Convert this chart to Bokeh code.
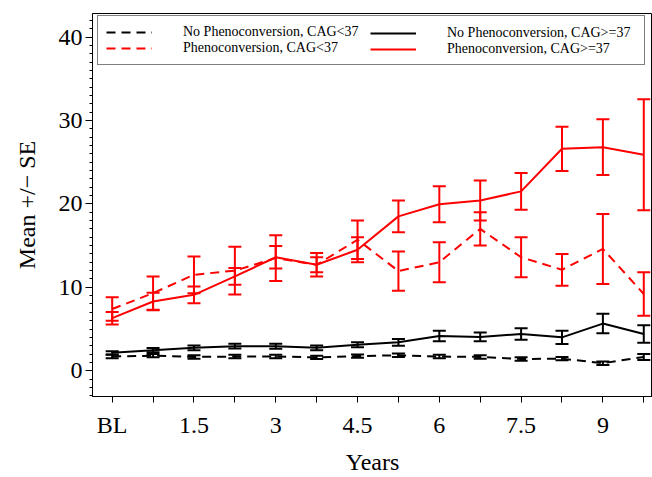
from bokeh.plotting import figure
from bokeh.models import (ColumnDataSource, Whisker, TeeHead, Range1d, FixedTicker,
                          SingleIntervalTicker, Legend, LegendItem)
from bokeh.embed import file_html
from bokeh.resources import INLINE

# ---------------- data ----------------
years = [0, 0.75, 1.5, 2.25, 3, 3.75, 4.5, 5.25, 6, 6.75, 7.5, 8.25, 9, 9.75]
x_tick_labels = {0: "BL", 1.5: "1.5", 3: "3", 4.5: "4.5", 6: "6", 7.5: "7.5", 9: "9"}

nopheno_lt37_mean = [1.70, 1.80, 1.65, 1.70, 1.70, 1.60, 1.75, 1.85, 1.70, 1.65, 1.40, 1.45, 0.90, 1.65]
nopheno_lt37_se = [0.20, 0.20, 0.20, 0.20, 0.20, 0.20, 0.20, 0.20, 0.20, 0.20, 0.20, 0.20, 0.20, 0.35]

nopheno_ge37_mean = [2.14, 2.46, 2.74, 2.94, 2.94, 2.74, 3.10, 3.40, 4.15, 4.05, 4.40, 4.00, 5.65, 4.40]
nopheno_ge37_se = [0.20, 0.25, 0.28, 0.28, 0.30, 0.28, 0.30, 0.40, 0.63, 0.53, 0.70, 0.80, 1.17, 1.05]

pheno_lt37_mean = [7.4, 9.3, 11.5, 12.0, 13.5, 12.7, 15.7, 11.95, 13.0, 17.0, 13.6, 12.1, 14.6, 9.2]
pheno_lt37_se = [1.4, 2.0, 2.2, 2.85, 2.75, 1.4, 2.3, 2.35, 2.4, 2.0, 2.4, 1.9, 4.2, 2.6]

pheno_ge37_mean = [6.3, 8.3, 9.1, 11.3, 13.6, 12.7, 14.5, 18.5, 19.95, 20.4, 21.5, 26.6, 26.8, 25.9]
pheno_ge37_se = [0.75, 1.05, 1.0, 1.0, 1.35, 0.9, 1.5, 1.9, 2.15, 2.4, 2.2, 2.65, 3.35, 6.65]

series = [
    ("No Phenoconversion, CAG<37", nopheno_lt37_mean, nopheno_lt37_se, "black", "9 6"),
    ("No Phenoconversion, CAG>=37", nopheno_ge37_mean, nopheno_ge37_se, "black", "solid"),
    ("Phenoconversion, CAG<37", pheno_lt37_mean, pheno_lt37_se, "red", "9 6"),
    ("Phenoconversion, CAG>=37", pheno_ge37_mean, pheno_ge37_se, "red", "solid"),
]

FONT = "Liberation Serif"

p = figure(width=652, height=477, output_backend="svg", toolbar_location=None,
           x_range=Range1d(-0.361, 9.910), y_range=Range1d(-3.09, 42.82),
           min_border_left=92, min_border_right=0, min_border_top=13, min_border_bottom=78)
p.background_fill_color = "white"
p.border_fill_color = "white"
p.outline_line_color = "black"
p.outline_line_width = 1
p.xgrid.visible = False
p.ygrid.visible = False

renderers = {}
for name, mean, se, color, dash in series:
    src = ColumnDataSource(dict(x=years, y=mean,
                                lower=[m - s for m, s in zip(mean, se)],
                                upper=[m + s for m, s in zip(mean, se)]))
    w = Whisker(source=src, base="x", lower="lower", upper="upper",
                line_color=color, line_width=2,
                upper_head=TeeHead(size=13, line_color=color, line_width=2),
                lower_head=TeeHead(size=13, line_color=color, line_width=2))
    p.add_layout(w)
    r = p.line("x", "y", source=src, line_color=color, line_width=2, line_dash=dash)
    renderers[name] = r

# axes
p.xaxis.ticker = FixedTicker(ticks=years)
p.xaxis.major_label_overrides = {t: x_tick_labels.get(t, "") for t in years}
p.xaxis.axis_label = "Years"
p.yaxis.ticker = SingleIntervalTicker(interval=10, num_minor_ticks=10)
p.yaxis.axis_label = "Mean +/\u2212 SE"

for ax in (p.xaxis[0], p.yaxis[0]):
    ax.major_label_text_font = FONT
    ax.major_label_text_font_size = "24px"
    ax.major_label_text_color = "black"
    ax.axis_label_text_font = FONT
    ax.axis_label_text_font_size = "24px"
    ax.axis_label_text_font_style = "normal"
    ax.axis_label_text_color = "black"
    ax.axis_line_color = "black"
    ax.major_tick_line_color = "black"
    ax.minor_tick_line_color = "black"
    ax.major_tick_in = 0
    ax.minor_tick_in = 0

p.xaxis.major_tick_out = 6
p.xaxis.minor_tick_out = 0
p.xaxis.major_label_standoff = 9
p.xaxis.axis_label_standoff = 8
p.yaxis.major_tick_out = 7
p.yaxis.minor_tick_out = 3
p.yaxis.major_label_standoff = 3
p.yaxis.axis_label_standoff = 16

common = dict(margin=0, padding=8, spacing=0, glyph_width=46, glyph_height=14,
              label_height=16, label_width=453, label_standoff=31,
              label_text_font=FONT, label_text_font_size="14px",
              label_text_color="black", orientation="vertical",
              border_line_width=1)

# first column (carries the frame of the legend box)
legend_a = Legend(items=[
    LegendItem(label=series[0][0], renderers=[renderers[series[0][0]]]),
    LegendItem(label=series[2][0], renderers=[renderers[series[2][0]]]),
], location=(5, 331), border_line_color="black",
    background_fill_color="white", background_fill_alpha=1.0, **common)
p.add_layout(legend_a)

# second column, drawn inside the same box
legend_b = Legend(items=[
    LegendItem(label=series[1][0], renderers=[renderers[series[1][0]]]),
    LegendItem(label=series[3][0], renderers=[renderers[series[3][0]]]),
], location=(270, 331), border_line_alpha=0.0,
    background_fill_color="white", background_fill_alpha=0.0, **common)
p.add_layout(legend_b)

open("out.html", "w").write(file_html(p, INLINE))
